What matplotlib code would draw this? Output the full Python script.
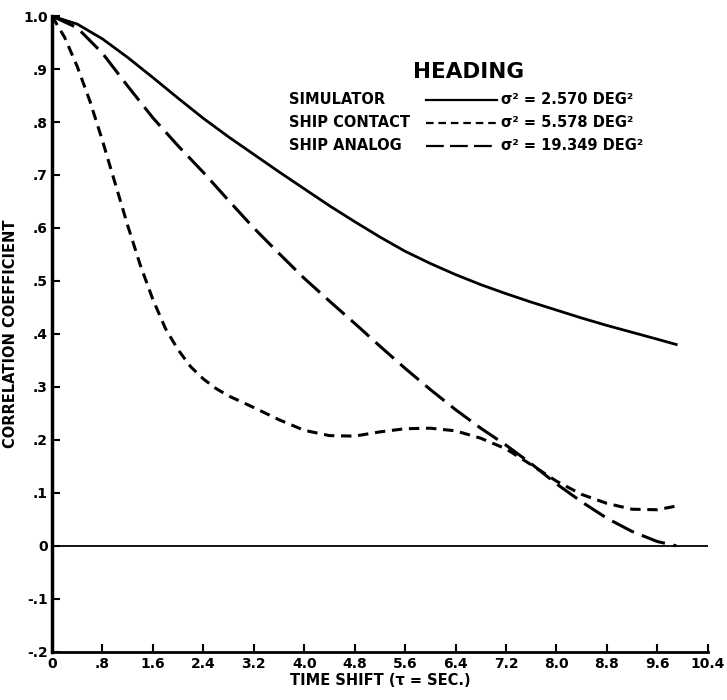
import matplotlib
matplotlib.use("Agg")
import matplotlib.pyplot as plt

# data
sim_x = [0, 0.4, 0.8, 1.2, 1.6, 2.0, 2.4, 2.8, 3.2, 3.6, 4.0, 4.4, 4.8, 5.2, 5.6, 6.0, 6.4, 6.8,
         7.2, 7.6, 8.0, 8.4, 8.8, 9.2, 9.6, 9.9]
sim_y = [1.0, 0.985, 0.957, 0.922, 0.884, 0.845, 0.807, 0.772, 0.739, 0.706, 0.674, 0.642, 0.612,
         0.583, 0.556, 0.533, 0.512, 0.493, 0.476, 0.46, 0.445, 0.43, 0.416, 0.403, 0.39, 0.38]

contact_x = [0, 0.2, 0.4, 0.6, 0.8, 1.0, 1.2, 1.4, 1.6, 1.8, 2.0, 2.2, 2.4, 2.6, 2.8, 3.0, 3.2,
             3.6, 4.0, 4.4, 4.8, 5.2, 5.6, 6.0, 6.4, 6.8, 7.2, 7.6, 8.0, 8.4, 8.8, 9.2, 9.6, 9.9]
contact_y = [1.0, 0.96, 0.905, 0.84, 0.765, 0.685, 0.605, 0.53, 0.465, 0.41, 0.37, 0.338, 0.315,
             0.297, 0.283, 0.272, 0.261, 0.238, 0.218, 0.208, 0.207, 0.215, 0.221, 0.222, 0.217,
             0.203, 0.183, 0.153, 0.122, 0.097, 0.08, 0.069, 0.068, 0.075]

analog_x = [0, 0.4, 0.8, 1.2, 1.6, 2.0, 2.4, 2.8, 3.2, 3.6, 4.0, 4.4, 4.8, 5.2, 5.6, 6.0, 6.4,
            6.8, 7.2, 7.6, 8.0, 8.4, 8.8, 9.2, 9.6, 9.9]
analog_y = [1.0, 0.978, 0.93, 0.868, 0.808, 0.755, 0.705, 0.652, 0.6, 0.552, 0.505, 0.462, 0.42,
            0.377, 0.335, 0.295, 0.257, 0.222, 0.19, 0.155, 0.117, 0.083, 0.052, 0.027, 0.008, 0.0]

zero_x = [0, 10.4]
zero_y = [0, 0]

xticks = [0, 0.8, 1.6, 2.4, 3.2, 4.0, 4.8, 5.6, 6.4, 7.2, 8.0, 8.8, 9.6, 10.4]
xtick_labels = ["0", ".8", "1.6", "2.4", "3.2", "4.0", "4.8", "5.6", "6.4", "7.2", "8.0", "8.8", "9.6", "10.4"]
yticks = [-0.2, -0.1, 0, 0.1, 0.2, 0.3, 0.4, 0.5, 0.6, 0.7, 0.8, 0.9, 1.0]
ytick_labels = ["-.2", "-.1", "0", ".1", ".2", ".3", ".4", ".5", ".6", ".7", ".8", ".9", "1.0"]

names = ["SIMULATOR", "SHIP CONTACT", "SHIP ANALOG"]
variances = ["2.570", "5.578", "19.349"]

plt.rcParams['font.family'] = ['DejaVu Sans']
plt.rcParams['font.weight'] = 'bold'

fig = plt.figure(figsize=(7.27, 7.00), dpi=100)
ax = fig.add_axes([0.0715, 0.069, 0.902, 0.908])

short_dash = (3.4, 2.2)
long_dash = (8.0, 2.8)

ax.plot(sim_x, sim_y, color='black', lw=2.0)
ax.plot(contact_x, contact_y, color='black', lw=2.2, dashes=short_dash)
ax.plot(analog_x, analog_y, color='black', lw=2.2, dashes=long_dash)
ax.plot(zero_x, zero_y, color='black', lw=1.3)

ax.set_xlim(0, 10.4)
ax.set_ylim(-0.2, 1.0)
ax.set_xticks(xticks)
ax.set_xticklabels(xtick_labels)
ax.set_yticks(yticks)
ax.set_yticklabels(ytick_labels)
ax.tick_params(direction='in', length=6, width=1.5, labelsize=10)
ax.tick_params(axis='x', pad=4)
ax.tick_params(axis='y', pad=3)

ax.spines['top'].set_visible(False)
ax.spines['right'].set_visible(False)
ax.spines['left'].set_linewidth(2.5)
ax.spines['bottom'].set_linewidth(2.0)

ax.set_xlabel("TIME SHIFT (\u03c4 = SEC.)", fontsize=10.5, fontweight='bold', labelpad=1)
ax.set_ylabel("CORRELATION COEFFICIENT", fontsize=10.5, fontweight='bold', labelpad=4)

# legend block drawn by hand (label, line sample, variance)
ax.text(0.636, 0.912, "HEADING", transform=ax.transAxes, fontsize=15.5, fontweight='bold',
        ha='center', va='center')
styles = [None, short_dash, long_dash]
for i, (name, var, st) in enumerate(zip(names, variances, styles)):
    yy = 0.868 - i * 0.036
    ax.text(0.361, yy, name, transform=ax.transAxes, fontsize=10.5, fontweight='bold',
            ha='left', va='center')
    if st is None:
        ax.plot([0.57, 0.678], [yy, yy], transform=ax.transAxes, color='black', lw=1.6)
    else:
        ax.plot([0.57, 0.678], [yy, yy], transform=ax.transAxes, color='black', lw=1.6, dashes=st)
    ax.text(0.685, yy, "\u03c3\u00b2 = " + var + " DEG\u00b2", transform=ax.transAxes,
            fontsize=10.5, fontweight='bold', ha='left', va='center')

fig.savefig("out.png", dpi=100)
